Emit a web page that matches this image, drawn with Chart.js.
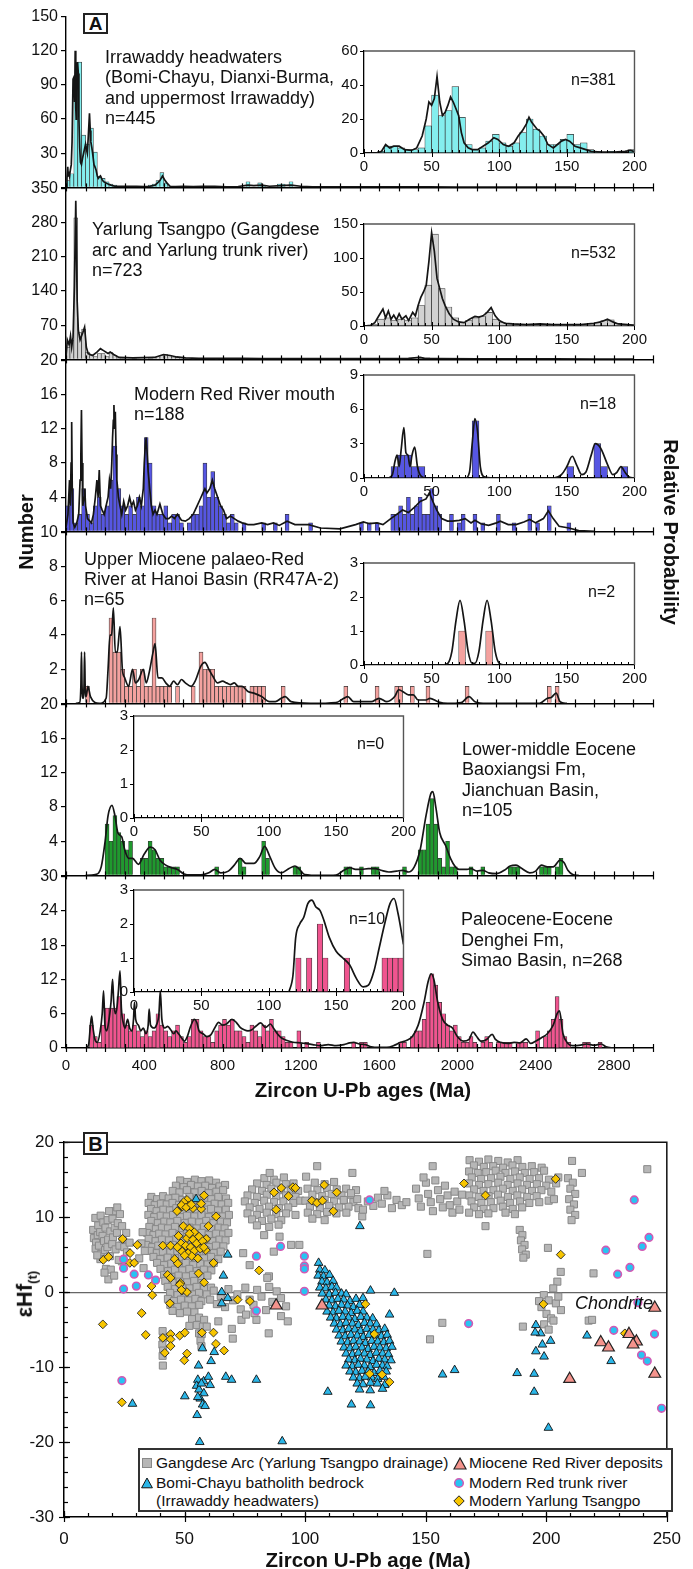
<!DOCTYPE html>
<html><head><meta charset="utf-8">
<script src="https://cdn.jsdelivr.net/npm/chart.js@4.4.1/dist/chart.umd.min.js"></script>
<style>
html,body{margin:0;padding:0;background:#fff;}
#root{position:relative;width:693px;height:1569px;overflow:hidden;font-family:"Liberation Sans",Arial,Helvetica,sans-serif;color:#111;}
canvas{position:absolute;}
.t{position:absolute;white-space:nowrap;}
.box{position:absolute;border:2px solid #222;background:#fff;font-weight:bold;text-align:center;box-sizing:border-box;}
</style></head>
<body><div id="root"></div>
<script>
// ---------------- DATA: Panel A main histograms ([bin start Ma, count], 20 Ma bins) ----------------
const BIN_MAIN = 20;
const hist1 = [[0,6],[20,12],[40,97],[60,110],[80,46],[100,38],[120,52],[140,31],[160,10],[180,8],[200,5],[220,3],[240,2],[260,1],[280,1],[300,1],[340,1],[380,1],[420,2],[440,3],[460,6],[480,13],[500,4],[520,1],[560,1],[600,1],[640,1],[700,1],[780,1],[840,1],[920,5],[980,4],[1000,1],[1080,3],[1100,3],[1140,5],[1200,1],[1340,1],[1500,1],[1860,1]];
const hist2 = [[0,25],[20,40],[40,290],[60,55],[80,62],[100,15],[120,8],[140,6],[160,12],[180,12],[200,6],[220,14],[240,8],[260,3],[280,2],[300,1],[320,1],[340,2],[360,1],[380,1],[400,1],[420,2],[440,5],[460,6],[480,8],[500,10],[520,8],[540,5],[560,4],[580,3],[600,2],[640,1],[700,2],[760,1],[840,2],[900,1],[960,2],[1000,1],[1100,1],[1200,1],[1300,2],[1400,1],[1500,1],[1600,1],[1700,1],[1800,2],[1820,3],[1840,3],[1860,2],[1900,2],[2000,1],[2100,1],[2300,1],[2400,1],[2500,2],[2700,1]];
const hist3 = [[0,3],[20,5],[40,1],[60,2],[80,5],[100,2],[120,1],[140,3],[160,4],[180,2],[200,3],[220,6],[240,10],[260,5],[280,3],[300,2],[320,3],[340,2],[360,4],[380,3],[400,11],[420,8],[440,3],[460,2],[480,2],[500,3],[520,1],[540,2],[560,2],[580,1],[620,1],[640,2],[660,2],[680,3],[700,8],[720,4],[740,7],[760,4],[780,3],[800,2],[820,1],[840,2],[860,1],[900,1],[1000,1],[1060,1],[1120,2],[1240,1],[1500,1],[1540,1],[1580,1],[1660,2],[1680,2],[1700,3],[1720,2],[1740,4],[1760,2],[1780,3],[1800,4],[1820,2],[1840,2],[1860,5],[1880,3],[1900,2],[1960,2],[2000,1],[2020,2],[2080,2],[2120,1],[2200,2],[2280,1],[2360,2],[2400,1],[2460,3],[2560,1]];
const hist4 = [[100,1],[220,5],[240,3],[260,3],[280,2],[300,1],[320,1],[340,2],[360,1],[380,2],[400,1],[420,1],[440,5],[460,1],[480,1],[500,1],[520,1],[560,1],[640,1],[680,3],[700,2],[720,2],[740,2],[760,1],[780,1],[800,1],[820,1],[840,1],[860,1],[880,1],[900,1],[940,1],[960,1],[980,1],[1000,1],[1100,1],[1420,1],[1580,1],[1680,1],[1700,1],[1760,1],[1840,1],[2040,1],[2460,1],[2500,1]];
const hist5 = [[200,6],[220,4],[240,7],[260,5],[280,4],[300,3],[320,4],[380,2],[400,2],[420,4],[440,3],[460,2],[480,2],[500,1],[520,1],[540,1],[560,1],[760,1],[880,2],[900,1],[1000,4],[1020,2],[1160,1],[1180,1],[1420,1],[1440,1],[1500,1],[1560,1],[1580,1],[1720,1],[1800,3],[1820,3],[1840,6],[1860,9],[1880,6],[1900,2],[1920,1],[1940,4],[1960,1],[1980,1],[2060,1],[2120,1],[2260,1],[2280,1],[2300,1],[2420,1],[2440,1],[2460,1],[2500,1],[2520,2]];
const hist6 = [[120,4],[140,2],[160,1],[180,4],[200,7],[220,7],[240,7],[260,9],[280,6],[300,4],[320,3],[340,4],[360,3],[380,2],[400,3],[420,2],[440,3],[460,6],[480,4],[500,3],[520,2],[540,3],[560,4],[580,2],[600,1],[620,2],[640,5],[660,5],[680,3],[700,2],[720,2],[740,1],[760,3],[780,4],[800,5],[820,4],[840,5],[860,3],[880,3],[900,2],[920,1],[940,4],[960,3],[980,2],[1000,4],[1020,3],[1040,5],[1060,3],[1080,3],[1100,2],[1120,1],[1140,1],[1180,3],[1220,1],[1280,1],[1460,1],[1500,1],[1520,1],[1700,1],[1720,1],[1760,2],[1780,3],[1800,3],[1820,5],[1840,8],[1860,13],[1880,11],[1900,8],[1920,6],[1940,4],[1960,3],[1980,4],[2000,2],[2020,1],[2040,1],[2060,2],[2080,1],[2120,1],[2140,2],[2160,1],[2200,1],[2220,1],[2240,1],[2260,1],[2300,1],[2320,1],[2340,1],[2400,3],[2440,2],[2460,3],[2480,5],[2500,9],[2520,5],[2540,2],[2560,1],[2640,1],[2660,1],[2720,1]];

// ---------------- DATA: Panel A probability curves ([age Ma, scaled value]) ----------------
const kde1 = [[0,1],[5,8],[9,18],[11,10],[14,14],[18,10],[22,15],[27,20],[31,40],[36,95],[41,97],[44,75],[47,120],[50,70],[52,60],[55,85],[59,110],[63,100],[66,60],[70,35],[74,22],[79,20],[84,25],[90,30],[95,34],[100,38],[105,33],[109,30],[114,45],[120,65],[124,50],[127,40],[132,35],[136,30],[143,20],[148,18],[154,15],[160,10],[165,8],[170,9],[176,10],[184,7],[192,5],[203,4],[215,3],[230,2],[249,1],[270,1],[300,1],[330,1],[360,1],[400,0.8],[430,1],[455,2],[468,4],[480,6],[493,10],[503,7],[515,4],[532,1],[560,0.8],[600,1],[650,0.8],[700,1],[760,1],[820,0.5],[880,0.8],[930,2],[960,1.5],[1000,2],[1040,1],[1100,1.5],[1150,2],[1200,1],[1260,0.5],[1350,0.5],[1450,0.5],[1550,0.5],[1700,0.5],[1850,0.5],[2000,0.3],[2200,0.3],[2400,0.3],[2600,0.3]];
const kde2 = [[0,5],[7,40],[16,30],[23,48],[29,25],[36,45],[43,150],[50,325],[57,120],[63,60],[72,40],[86,55],[95,66],[104,25],[113,12],[136,8],[158,15],[176,22],[192,18],[215,12],[226,15],[244,10],[271,4],[339,3],[452,4],[498,10],[532,8],[566,5],[611,3],[679,2],[792,2],[900,2],[1000,1.5],[1200,1.5],[1400,1.5],[1600,1.5],[1750,2],[1810,4],[1832,2],[1900,1.5],[2100,1],[2300,1],[2500,1.2],[2700,0.8],[2900,0.5]];
const kde3 = [[0,0.5],[10,2],[18,6],[22,3],[26,8],[29,12.8],[32,5],[36,1],[45,0.5],[55,1],[65,2],[72,6],[76,9],[79,14.2],[82,8],[86,3],[92,4],[96,5],[100,3],[110,1.5],[130,1],[140,2],[150,4],[158,6],[164,4],[170,7.2],[176,3],[185,2.5],[195,2],[205,3],[215,4],[222,6],[228,5],[234,8],[238,11],[242,13],[245,14.8],[248,12],[252,14],[256,9],[260,6],[268,4],[276,3],[285,2],[295,3.5],[305,2.5],[315,3],[325,4],[335,3],[345,3.5],[355,2.5],[365,3],[375,4],[385,3],[395,5],[400,8],[405,10],[410,11],[415,9],[420,7],[428,5],[436,3],[445,2],[455,2.5],[465,2],[480,3.2],[495,2],[510,1.5],[525,1.5],[540,1.8],[555,1.5],[570,2],[590,1.3],[610,1.2],[630,1.5],[650,2],[670,3],[690,4],[700,4.5],[710,5],[720,4.5],[735,5],[748,6],[760,5],[775,4],[790,3],[805,2.5],[820,1.5],[840,1.8],[860,1.5],[880,1.2],[900,1],[930,0.8],[960,0.8],[1000,1],[1030,0.8],[1060,1],[1090,0.7],[1130,1.2],[1170,0.8],[1240,0.8],[1300,0.4],[1400,0.3],[1480,0.8],[1520,1.1],[1550,0.9],[1590,1],[1620,0.8],[1660,1.5],[1690,2],[1720,2.5],[1750,2.2],[1780,2.8],[1810,3.5],[1840,3.8],[1857,4.5],[1875,3.5],[1895,2.5],[1920,1.5],[1950,1.2],[1975,1.2],[2010,1.3],[2040,1.5],[2070,1],[2090,1.3],[2120,0.9],[2160,0.7],[2200,1],[2220,1.2],[2260,0.8],[2300,0.8],[2340,1.1],[2370,1.4],[2400,1],[2440,1.5],[2465,2.4],[2490,1.5],[2520,0.6],[2570,0.4],[2620,0.1],[2700,0]];
const kde4 = [[50,0],[70,0.05],[76,1],[79,3],[82,1],[87,0.3],[92,1],[95,3],[98,1],[103,0.4],[112,1],[125,0.4],[170,0],[205,0.3],[215,2],[225,4],[233,4],[242,5.6],[252,3],[262,3],[276,4.5],[288,2],[300,1.5],[320,1],[340,2],[355,1.2],[372,1.4],[395,2],[410,1.2],[425,1.8],[445,3],[455,3.5],[470,1.5],[490,1.5],[510,1.2],[530,1],[550,1.3],[570,1.1],[590,1.4],[610,1.2],[640,1],[660,1.3],[690,2.2],[710,2.4],[730,2],[750,1.6],[775,1.2],[800,1.3],[820,1.2],[840,1.1],[860,1.2],[880,1],[900,1],[930,0.7],[960,0.6],[1000,0.4],[1040,0.1],[1070,0.1],[1100,0.3],[1120,0.4],[1150,0.1],[1250,0],[1380,0.05],[1420,0.3],[1440,0.4],[1470,0.1],[1560,0.1],[1600,0.3],[1640,0.1],[1680,0.4],[1700,0.8],[1720,0.7],[1750,0.5],[1775,0.5],[1800,0.2],[1840,0.2],[1860,0.3],[1900,0.1],[1950,0],[2020,0.05],[2060,0.4],[2090,0.1],[2150,0],[2420,0],[2460,0.3],[2480,0.35],[2505,0.6],[2525,0.1],[2560,0]];
const kde5 = [[100,0],[150,0.1],[180,1],[200,4],[215,7],[235,8.2],[250,7],[265,5],[285,4.5],[300,3],[320,2],[340,2],[370,1.3],[400,2.5],[430,3.3],[455,3],[480,1.8],[510,1.2],[540,0.9],[570,0.7],[600,0.2],[640,0.05],[700,0.1],[730,0.3],[760,0.7],[790,0.3],[830,0.5],[860,1.2],[890,2],[920,1.4],[960,1.4],[990,2.2],[1015,3.4],[1040,2.3],[1070,0.8],[1100,0.3],[1140,0.8],[1170,1.1],[1190,0.8],[1220,0.1],[1300,0],[1380,0.05],[1420,0.6],[1450,0.9],[1480,0.7],[1510,0.7],[1545,0.8],[1580,0.8],[1610,0.6],[1650,0.4],[1690,0.5],[1720,0.6],[1750,0.4],[1780,1],[1810,3],[1840,7],[1865,9.6],[1875,9.8],[1890,8],[1910,5],[1940,3.5],[1965,2],[1990,1],[2010,0.7],[2050,0.7],[2070,0.8],[2100,0.5],[2130,0.6],[2160,0.3],[2200,0.2],[2240,0.6],[2270,1.1],[2300,1.2],[2330,0.8],[2370,0.3],[2400,0.5],[2430,1.2],[2460,1],[2490,1],[2525,1.8],[2545,1.5],[2565,0.6],[2590,0.1],[2620,0]];
const kde6 = [[100,0],[115,0.5],[125,4],[131,5.6],[138,3.5],[148,1.5],[160,1],[175,3],[185,6],[192,10],[199,4],[208,3],[220,5],[230,8],[238,12],[244,8],[252,6],[260,7],[268,10],[276,13.5],[283,7],[292,4.5],[302,3.5],[315,5],[325,3.5],[338,3],[345,5],[350,8],[356,5],[370,4],[382,3],[395,3.5],[408,2.5],[420,4],[425,6.8],[432,4],[450,3.5],[462,4],[475,6],[482,10],[490,5],[505,3.5],[520,3.8],[535,3.2],[550,2.5],[562,3],[575,2.5],[590,1.8],[605,1.2],[620,2],[637,3.8],[656,5],[668,4.5],[680,3],[700,2.5],[720,2],[740,2.3],[760,3.5],[780,4.5],[800,4],[820,4.2],[848,5],[870,4.5],[890,3.6],[910,3.2],[930,3],[950,3.2],[970,3.8],[995,4.4],[1020,3.6],[1045,4.2],[1060,3.5],[1080,2.5],[1100,1.8],[1130,1.3],[1160,1],[1199,0.9],[1220,0.8],[1260,0.6],[1300,0.4],[1340,0.6],[1380,0.4],[1420,0.6],[1450,0.9],[1470,1],[1500,0.7],[1530,0.6],[1560,0.2],[1600,0.1],[1640,0.1],[1680,0.5],[1710,1],[1740,1.3],[1770,2],[1800,4],[1830,8],[1850,11.5],[1866,13],[1880,12],[1900,8],[1925,5],[1950,4],[1975,3.5],[2000,2],[2030,1.2],[2060,1.5],[2080,2.8],[2095,2.2],[2120,1.2],[2150,1.5],[2178,2.4],[2195,1.5],[2220,1],[2260,0.8],[2290,1],[2320,0.9],[2352,1.6],[2375,0.8],[2400,1.2],[2430,1.8],[2460,2.5],[2490,4],[2510,6],[2522,6.5],[2540,2.5],[2565,0.8],[2590,0.4],[2630,0.5],[2660,0.7],[2700,0.5],[2735,0.7],[2760,0.2],[2800,0]];

// ---------------- DATA: Panel A insets (0-200 Ma) ----------------
const BIN_IN = 5, BIN_IN6 = 4;
const in1Hist = [[10,1],[15,4],[20,4],[25,3],[30,2],[35,2],[40,3],[45,16],[50,34],[55,22],[60,25],[65,39],[70,21],[75,5],[80,2],[85,3],[90,7],[95,11],[100,6],[105,4],[110,6],[115,12],[120,20],[125,14],[130,10],[135,5],[140,5],[145,8],[150,11],[155,5],[160,6],[165,2],[170,1],[180,1],[195,2]];
const in2Hist = [[5,2],[10,10],[15,12],[20,8],[25,10],[30,8],[35,12],[40,30],[45,60],[50,135],[55,55],[60,28],[65,12],[70,5],[75,8],[80,12],[85,14],[90,20],[95,10],[100,5],[105,3],[110,3],[115,2],[120,3],[125,2],[130,2],[135,3],[140,2],[145,2],[150,2],[155,3],[160,2],[165,3],[170,5],[175,8],[180,9],[185,4],[190,2],[195,2]];
const in3Hist = [[20,1],[25,2],[30,2],[35,1],[40,1],[80,5],[150,1],[170,3],[175,1],[190,1]];
const in4Hist = [[70,1],[90,1]];
const in5Hist = [];
const in6Hist = [[120,1],[128,1],[136,2],[140,1],[156,1],[184,1],[188,1],[192,1],[196,1]];
const in1Kde = [[0,0],[10,0],[13,1],[16,5],[19,3],[22,4],[26,4],[30,2],[35,1.5],[39,3],[43,10],[46,20],[48,30],[50,28],[52,32],[54,45],[56,30],[58,22],[60,24],[62,28],[64,33],[66,30],[68,26],[70,22],[72,12],[74,6],[77,3],[80,2],[84,2],[88,4],[92,6],[96,9],[99,8],[103,5],[107,4],[111,6],[114,10],[117,13],[120,17],[122,21],[124,18],[126,16],[128,14],[130,13],[133,10],[136,5],[140,3],[143,5],[146,7],[149,8],[152,7],[156,4],[160,3],[164,2],[168,1],[175,0.5],[185,0.5],[193,1],[197,1.5],[200,0.8]];
const in2Kde = [[0,0],[5,1],[8,5],[11,15],[14,25],[16,12],[18,22],[20,10],[22,16],[24,9],[26,18],[28,10],[31,15],[33,8],[36,20],[38,15],[40,30],[42,42],[44,50],[46,60],[48,95],[50,137],[52,110],[54,70],[56,55],[58,40],[60,30],[63,18],[66,10],[70,6],[74,5],[78,10],[82,14],[85,13],[88,15],[91,20],[94,27],[97,15],[100,8],[104,4],[110,3],[120,2],[130,3],[140,2],[150,2],[160,2],[170,4],[175,6],[180,10],[184,6],[188,3],[195,2],[200,1]];
const in3Kde = [[0,0],[18,0],[21,0.3],[23,1.5],[24.5,2],[26,1],[27.5,2.5],[29.5,4.4],[31,2.2],[32.5,2],[34,1],[35.5,2],[37.5,2.7],[39.5,1],[42,0.2],[46,0],[75,0],[78,0.5],[80,3],[82,5.2],[84,4],[86,1],[89,0.1],[95,0],[140,0],[146,0.3],[150,1],[154,1.9],[157,1.2],[161,0.3],[164,0.5],[168,2],[171,3],[175,2.6],[180,1.2],[184,0.3],[187,0.5],[190,1],[193,0.5],[196,0.1],[200,0]];
const in4Kde = [[0,0],[58,0],[62,0.05],[65,0.4],[68,1.3],[71,1.9],[74,1.3],[77,0.4],[80,0.05],[82,0.05],[85,0.4],[88,1.3],[91,1.9],[94,1.3],[97,0.4],[100,0.05],[104,0],[122,0]];
const in6Kde = [[115,0],[118,0.5],[120,1.6],[123,2],[126,2.2],[129,2.6],[132,2.7],[135,2.5],[138,2.4],[141,2.1],[145,1.6],[150,1.2],[155,1],[160,0.8],[165,0.4],[170,0.15],[174,0.2],[178,0.6],[182,1.3],[186,2],[190,2.6],[193,2.75],[196,2.3],[200,1.4]];

// ---------------- DATA: Panel B ([U-Pb age Ma, eHf(t)]) ----------------
const gangdese = [
[12.1,8.3],[12.4,7.2],[13.0,9.9],[13.3,6.6],[13.1,5.8],[14.2,8.9],[14.0,7.6],[14.5,6.2],[15.2,10.2],[15.0,8.0],[15.4,5.1],[15.1,4.4],[16.3,9.3],[16.0,7.5],[16.6,6.8],[17.2,8.6],[17.0,5.6],[17.4,3.1],[18.1,9.6],[18.3,7.0],[18.0,6.0],[18.4,1.7],[19.2,8.1],[19.0,4.8],[20.1,9.8],[20.3,7.3],[20.0,6.4],[21.2,10.8],[21.0,8.6],[21.4,5.7],[22.1,11.3],[22.3,9.2],[22.0,7.9],[23.2,10.4],[23.0,6.2],[24.1,8.8],[24.3,7.1],[25.0,6.0],[26.1,5.3],[27.2,6.6],[24.0,4.1],[19.4,3.0],[13.8,4.9],[16.8,2.6],[20.8,2.2],[22.7,4.3],[25.8,7.9],[18.7,10.8],
[48.2,14.9],[51.1,14.7],[54.3,15.0],[57.0,14.8],[60.2,14.9],[63.1,14.6],
[46.4,14.2],[49.6,14.0],[52.7,14.3],[55.5,14.1],[58.6,14.2],[61.4,13.9],[64.5,14.1],[66.8,14.3],
[45.1,13.5],[47.9,13.3],[51.0,13.6],[54.2,13.3],[57.1,13.5],[60.0,13.2],[63.2,13.4],[66.0,13.6],
[36.2,12.7],[38.6,12.4],[41.1,12.8],[43.4,12.5],[46.2,12.6],[49.1,12.3],[52.0,12.7],[55.2,12.5],[58.0,12.6],[61.1,12.4],[64.0,12.7],[67.2,12.5],
[35.1,11.9],[37.6,11.6],[40.2,11.8],[42.6,11.7],[45.0,11.9],[47.7,11.6],[50.6,11.8],[53.4,11.7],[56.5,11.9],[59.6,11.6],[62.5,11.8],[65.4,11.7],[68.1,11.9],
[36.1,11.1],[38.4,10.8],[41.2,11.0],[43.9,10.9],[46.6,11.2],[49.0,10.9],[52.1,11.1],[55.0,10.8],[58.2,11.0],[61.0,11.1],[63.9,10.9],[67.1,11.0],
[35.0,10.3],[37.4,10.0],[40.1,10.2],[42.6,10.1],[45.2,10.3],[48.1,10.0],[51.0,10.2],[54.1,10.1],[57.0,10.3],[60.1,10.0],[62.9,10.2],[66.0,10.1],[68.4,10.3],
[36.2,9.5],[38.9,9.2],[41.6,9.4],[44.1,9.3],[47.0,9.5],[50.1,9.2],[53.0,9.4],[56.1,9.3],[59.0,9.5],[62.0,9.2],[65.1,9.4],[67.6,9.3],
[35.4,8.7],[38.1,8.4],[40.6,8.6],[43.1,8.5],[46.0,8.7],[49.1,8.4],[52.0,8.6],[55.0,8.5],[58.1,8.7],[61.0,8.4],[64.1,8.6],[66.6,8.5],
[34.5,7.9],[37.1,7.6],[39.5,7.8],[42.1,7.7],[45.0,7.9],[48.0,7.6],[51.1,7.8],[54.0,7.7],[57.1,7.9],[60.0,7.6],[63.1,7.8],[66.0,7.7],[68.2,7.9],
[35.1,7.1],[38.0,6.8],[40.6,7.0],[43.5,6.9],[46.6,7.1],[49.5,6.8],[52.6,7.0],[55.4,6.9],[58.5,7.1],[61.6,6.8],[64.5,7.0],[67.0,6.9],
[34.0,6.3],[36.6,6.0],[39.1,6.2],[42.0,6.1],[45.1,6.3],[48.0,6.0],[51.1,6.2],[54.0,6.1],[57.0,6.3],[60.1,6.0],[63.0,6.2],[66.1,6.1],
[35.6,5.5],[38.5,5.2],[41.0,5.4],[44.1,5.3],[47.0,5.5],[50.1,5.2],[53.0,5.4],[56.1,5.3],[59.0,5.5],[62.1,5.2],[65.0,5.4],
[37.1,4.7],[40.0,4.4],[43.0,4.6],[46.1,4.5],[49.0,4.7],[52.1,4.4],[55.0,4.6],[58.1,4.5],[61.0,4.7],[64.0,4.4],
[38.6,3.9],[41.5,3.6],[44.5,3.8],[47.6,3.7],[50.5,3.9],[53.6,3.6],[56.5,3.8],[59.6,3.7],[62.1,3.9],
[40.0,3.1],[43.1,2.8],[46.0,3.0],[49.1,2.9],[52.0,3.1],[55.1,2.8],[58.0,3.0],[61.1,2.9],
[41.5,2.3],[44.6,2.0],[47.5,2.2],[50.6,2.1],[53.5,2.3],[56.6,2.0],[59.5,2.2],
[42.0,1.5],[45.1,1.2],[48.0,1.4],[51.1,1.3],[54.0,1.5],[57.1,1.2],
[43.0,0.7],[46.1,0.4],[49.0,0.6],[52.1,0.5],[55.0,0.7],[58.1,0.4],[61.0,0.6],
[44.0,-0.1],[47.1,-0.4],[50.0,-0.2],[53.1,-0.3],[56.0,-0.1],
[43.1,-0.9],[45.6,-1.2],[48.5,-1.0],[51.6,-1.1],[54.5,-0.9],[57.0,-1.2],
[44.1,-1.7],[47.0,-2.0],[50.1,-1.8],[53.0,-1.9],[56.1,-1.7],
[45.0,-2.5],[48.1,-2.8],[51.0,-2.6],[54.1,-2.7],
[53.1,-3.6],[56.0,-3.4],[58.1,-3.7],[52.0,-4.5],[55.1,-4.4],[57.6,-4.6],[56.0,-5.5],[57.1,-5.6],[56.6,-6.5],[57.0,-7.2],
[40.9,-5.2],[41.2,-6.1],[40.8,-7.0],[41.1,-7.8],[40.9,-8.5],[41.0,-9.8],
[31.2,4.5],[32.1,6.5],[33.0,3.2],[33.5,5.5],[32.6,8.0],
[59.2,-0.3],[60.6,-1.0],[62.1,0.2],[63.4,-1.6],[65.0,-0.5],[66.8,-2.0],[68.2,0.4],[70.1,-1.1],[71.9,-0.3],[73.3,-2.3],[75.2,0.6],[77.0,-1.0],[78.6,-1.7],[80.1,0.3],[81.9,-0.6],[83.8,-2.4],[85.1,0.7],[86.4,-1.3],[88.2,0.1],[90.0,-0.8],[92.1,-1.9],
[64.0,-3.9],[69.6,-4.9],[73.6,-3.7],[79.8,-3.7],[84.9,-5.5],[92.8,-3.9],[59.2,-4.6],[79.0,-2.8],[83.0,7.6],[85.0,2.1],[77.0,3.6],[74.3,5.2],[89.4,7.4],[94.2,6.3],[97.6,6.3],[87.0,5.4],[84.3,1.9],[70.0,-6.2],[90.0,-3.2],[75.5,-3.0],
[83.1,15.2],[87.0,15.0],[91.2,15.3],
[80.1,14.5],[84.0,14.3],[88.1,14.6],[92.0,14.4],[95.2,14.5],
[78.0,13.7],[82.1,13.5],[86.0,13.8],[90.1,13.6],[94.0,13.7],[97.1,13.5],
[76.1,12.9],[80.0,12.7],[84.1,13.0],[88.0,12.8],[92.1,12.9],[96.0,12.7],
[75.0,12.1],[79.1,11.9],[83.0,12.2],[87.1,12.0],[91.0,12.1],[95.1,11.9],[98.0,12.2],
[77.0,11.3],[81.1,11.1],[85.0,11.4],[89.1,11.2],[93.0,11.3],
[76.1,10.5],[80.0,10.3],[84.1,10.6],[88.0,10.4],[92.1,10.5],[96.0,10.3],
[78.0,9.7],[82.1,9.5],[86.0,9.8],[90.1,9.6],
[80.0,8.9],[85.1,8.7],[89.0,9.0],
[104.0,14.6],[108.1,14.4],[112.0,14.7],
[101.0,13.8],[105.1,13.6],[109.0,13.9],[113.1,13.7],[117.0,13.8],[121.1,13.6],
[103.0,13.0],[107.1,12.8],[111.0,13.1],[115.1,12.9],[119.0,13.0],
[100.1,12.2],[104.0,12.0],[108.1,12.3],[112.0,12.1],[116.1,12.2],[120.0,12.0],
[102.0,11.4],[106.1,11.2],[110.0,11.5],[114.1,11.3],[118.0,11.4],[122.1,11.2],
[101.1,10.6],[105.0,10.4],[109.1,10.7],[113.0,10.5],[117.1,10.6],
[103.0,9.8],[108.1,9.6],
[105.0,16.8],[85.3,15.9],[100.4,15.4],[119.6,15.9],[116.0,12.3],[121.6,12.4],[123.7,10.1],[119.0,13.2],
[126.0,12.1],[128.3,11.5],[130.2,12.6],[131.8,11.8],[134.1,12.9],[136.0,11.2],[137.9,12.3],[140.1,11.6],[142.0,12.0],[124.0,11.0],[132.9,13.5],
[146.0,13.8],[147.1,12.5],[148.0,11.4],[150.1,14.6],[151.0,13.1],[152.1,12.0],[153.0,10.8],[155.1,13.6],[156.0,12.4],[157.1,11.3],[158.0,14.2],[159.1,12.9],[160.0,11.6],[161.1,10.6],[162.0,13.4],[163.1,12.1],[164.0,11.0],[165.1,13.0],[149.1,15.3],[154.0,14.9],[152.9,16.8],[150.7,5.1],
[168.2,17.6],[172.1,17.4],[176.0,17.7],[180.1,17.5],[184.0,17.3],[188.1,17.6],
[170.0,16.9],[174.1,16.7],[178.0,16.8],[182.1,16.6],[186.0,16.9],[190.1,16.7],[194.0,16.8],[198.1,16.6],
[168.0,16.1],[171.6,15.9],[175.1,16.0],[179.0,16.2],[183.1,15.9],[187.0,16.1],[191.1,15.9],[195.0,16.0],[199.1,16.2],
[169.1,15.3],[173.0,15.1],[177.1,15.2],[181.0,15.4],[185.1,15.1],[189.0,15.3],[193.1,15.1],[197.0,15.2],[201.1,15.0],[205.0,15.3],
[168.0,14.5],[172.1,14.3],[176.0,14.4],[180.1,14.6],[184.0,14.3],[188.1,14.5],[192.0,14.3],[196.1,14.4],[200.0,14.2],[204.1,14.5],
[170.1,13.7],[174.0,13.5],[178.1,13.6],[182.0,13.8],[186.1,13.5],[190.0,13.7],[194.1,13.5],[198.0,13.6],[202.1,13.4],
[168.1,12.9],[172.0,12.7],[176.1,12.8],[180.0,13.0],[184.1,12.7],[188.0,12.9],[192.1,12.7],[196.0,12.8],
[169.0,12.1],[173.1,11.9],[177.0,12.0],[181.1,12.2],[185.0,11.9],[189.1,12.1],[193.0,11.9],[197.1,12.0],[201.0,12.2],
[170.1,11.3],[174.0,11.1],[178.1,11.2],[182.0,11.4],[186.1,11.1],[190.0,11.3],
[168.0,10.6],[172.1,10.4],[176.0,10.5],[183.1,10.6],[187.0,10.4],
[174.8,8.8],[210.7,17.5],[214.8,15.9],[203.2,12.4],[241.9,16.4],[200.7,5.9],[206.0,2.7],[204.6,1.4],[219.6,2.5],
[189.0,8.3],[190.1,7.6],[189.5,6.9],[191.0,6.3],[190.0,5.7],[191.5,5.0],[190.5,4.6],
[209.0,15.2],[211.0,14.6],[210.0,13.8],[212.0,13.1],[209.5,12.4],[211.5,11.7],[210.0,11.0],[212.0,10.3],[210.5,9.6],
[199.0,-0.4],[201.0,-1.1],[198.0,-2.0],[200.1,-2.9],[202.0,-3.5],[199.1,-4.3],[201.0,-5.0],[204.0,-1.5],[206.1,-2.4],[203.0,-3.8],[205.0,-0.6],[190.3,-4.6],[217.6,-3.8],[219.0,-3.7],[156.9,-4.1],[151.8,-6.3],[197.0,-1.2],[202.9,0.5]
];
const bomiChayu = [
[105.6,3.9],[106.1,3.0],[108.2,2.9],[105.4,2.2],[107.6,2.1],[110.1,2.3],[107.0,1.4],[109.1,1.3],[111.6,1.5],
[106.1,0.6],[108.6,0.5],[111.1,0.7],[113.0,0.6],
[107.1,-0.2],[110.0,-0.3],[112.6,-0.1],[115.1,-0.2],[117.0,-0.3],
[108.6,-1.0],[111.1,-1.1],[113.6,-0.9],[116.0,-1.0],[118.6,-1.2],[121.1,-0.9],
[110.0,-1.8],[112.6,-1.9],[115.1,-1.7],[117.6,-1.8],[120.0,-2.0],[122.6,-1.7],
[109.1,-2.6],[111.6,-2.7],[114.0,-2.5],[116.6,-2.6],[119.1,-2.8],[121.6,-2.5],[124.0,-2.6],
[110.6,-3.4],[113.0,-3.5],[115.6,-3.3],[118.0,-3.4],[120.6,-3.6],[123.1,-3.3],[125.6,-3.4],[128.0,-3.5],
[112.1,-4.2],[114.6,-4.3],[117.0,-4.1],[119.6,-4.2],[122.1,-4.4],[124.6,-4.1],[127.0,-4.2],[129.6,-4.3],
[113.0,-5.0],[115.6,-5.1],[118.1,-4.9],[120.6,-5.0],[123.0,-5.2],[125.6,-4.9],[128.1,-5.0],[130.6,-5.1],[133.0,-4.9],
[114.1,-5.8],[116.6,-5.9],[119.0,-5.7],[121.6,-5.8],[124.1,-6.0],[126.6,-5.7],[129.0,-5.8],[131.6,-5.9],[134.0,-5.7],
[115.0,-6.6],[117.6,-6.7],[120.1,-6.5],[122.6,-6.6],[125.0,-6.8],[127.6,-6.5],[130.1,-6.6],[132.6,-6.7],[135.0,-6.5],
[116.1,-7.4],[118.6,-7.5],[121.0,-7.3],[123.6,-7.4],[126.1,-7.6],[128.6,-7.3],[131.0,-7.4],[133.6,-7.5],[136.0,-7.3],
[117.0,-8.2],[119.6,-8.3],[122.1,-8.1],[124.6,-8.2],[127.0,-8.4],[129.6,-8.1],[132.1,-8.2],[134.6,-8.3],
[118.1,-9.0],[120.6,-9.1],[123.0,-8.9],[125.6,-9.0],[128.1,-9.2],[130.6,-8.9],[133.0,-9.0],[135.6,-9.1],
[117.0,-9.8],[119.6,-9.9],[122.1,-9.7],[124.6,-9.8],[127.0,-10.0],[129.6,-9.7],[132.1,-9.8],[134.0,-9.9],
[118.6,-10.6],[121.0,-10.7],[123.6,-10.5],[126.1,-10.6],[128.6,-10.8],[131.0,-10.5],[133.6,-10.6],
[120.0,-11.4],[122.6,-11.5],[125.0,-11.3],[127.6,-11.4],[130.1,-11.6],[132.6,-11.3],
[121.6,-12.2],[124.0,-12.3],[127.1,-12.1],[130.0,-12.2],[133.0,-12.4],
[122.6,-13.0],[127.0,-13.1],[132.1,-12.9],
[119.2,-15.0],[127.1,-15.1],[109.4,-13.3],[157.0,-11.0],[162.0,-10.4],[187.9,-10.8],[195.0,-10.9],[195.0,-13.3],[200.9,-18.1],[195.7,-4.4],[197.7,-5.5],[195.4,-5.4],[198.4,-7.0],[201.8,-6.5],[195.7,-7.9],[199.1,-8.6],[216.9,-5.8],[226.9,-9.2],[135.0,-3.0],[137.0,-0.1],[127.1,0.2],[124.0,-0.8],[122.7,8.8],
[54.8,12.4],[67.9,5.0],[66.1,2.2],[65.4,0.0],[65.4,-1.5],[67.9,-0.8],[57.4,-7.5],[55.8,-9.8],[55.5,-11.7],[57.9,-11.9],[55.0,-12.5],[56.0,-13.0],[57.0,-12.2],[58.0,-13.5],[56.5,-14.2],[57.5,-15.0],[58.5,-15.2],[55.5,-14.0],[60.6,-12.4],[59.9,-11.3],[61.0,-9.2],[62.3,-8.0],[67.1,-11.3],[69.5,-11.7],[79.8,-11.7],[50.1,-13.9],[28.4,-14.9],[55.2,-16.4],[56.3,-20.0],[90.5,-19.9]
];
const mioceneRed = [[88.0,-1.8],[107.0,-1.8],[209.7,-11.6],[222.6,-6.7],[225.8,-7.4],[234.3,-5.6],[237.4,-6.6],[236.0,-7.0],[245.0,-2.1],[245.0,-10.9]];
const modernRed = [[24.7,4.4],[24.7,3.2],[29.1,2.4],[35.0,2.3],[38.0,1.6],[30.0,0.8],[24.7,0.4],[79.8,4.8],[89.8,6.1],[99.7,4.8],[99.7,3.5],[99.7,3.1],[99.7,0.1],[79.8,-2.5],[24.0,-11.8],[126.7,12.3],[236.5,12.3],[242.6,7.3],[239.8,6.1],[224.7,5.6],[234.7,3.3],[229.6,2.4],[167.8,-4.2],[238.0,-1.4],[228.0,-5.1],[244.9,-5.6],[239.5,-8.4],[241.9,-9.2],[247.8,-15.5]];
const modernYarlung = [
[24.3,7.1],[16.3,4.3],[18.5,4.7],[27.4,5.2],[27.3,3.9],[29.1,3.9],[30.4,6.3],[41.0,6.2],[44.2,6.2],[45.9,4.4],[47.2,3.8],[43.0,2.3],[44.2,1.9],[36.3,0.8],[36.6,-0.4],[43.9,-1.5],[48.3,1.2],[49.0,0.2],[51.0,0.0],[55.8,2.5],[58.1,1.3],[62.0,3.9],[58.8,5.6],[59.0,7.1],[59.9,8.8],[63.1,10.1],[58.1,12.9],[51.0,12.3],[49.0,11.4],[46.9,10.8],[51.7,11.5],[53.5,11.2],[56.9,11.1],[56.9,11.8],[49.6,12.0],[48.7,11.6],[50.7,11.3],[52.8,11.7],
[49.5,8.8],[52.0,8.5],[54.0,8.0],[47.5,7.5],[51.0,7.2],[53.5,7.0],[56.0,7.4],[48.5,6.5],[50.5,6.2],[52.5,6.0],[55.0,6.5],[57.5,6.8],[49.0,5.4],[51.5,5.2],[54.0,5.5],[56.5,5.8],[53.0,4.8],[50.0,4.9],[55.5,4.5],[47.0,6.0],[52.0,7.8],[58.0,6.0],
[87.1,13.3],[90.1,13.9],[88.0,11.0],[93.1,12.8],[94.9,14.0],[96.0,13.9],[102.8,12.2],[104.9,11.9],[107.2,12.2],[107.9,14.3],[111.7,10.8],[113.1,13.3],[165.9,14.5],[174.8,12.9],[203.9,15.1],[206.0,5.0],[198.8,-1.6],[80.9,2.9],[72.0,-1.0],[77.1,-1.2],
[16.1,-4.3],[32.2,-2.8],[33.9,-5.7],[41.0,-6.1],[41.8,-8.1],[44.2,-5.6],[44.2,-6.3],[44.2,-7.2],[48.0,-5.8],[50.1,-5.4],[51.0,-8.2],[49.9,-9.1],[57.2,-5.4],[62.0,-5.4],[63.0,-6.9],[66.4,-7.8],[48.0,1.0],[48.7,0.3],[24.0,-14.7],
[125.0,-1.6],[128.7,-5.6],[126.8,-10.9],[131.9,-11.0],[135.0,-12.0],[232.6,-5.5]
];

// ---------------- RENDERING ----------------
const FONT = '"Liberation Sans", Arial, Helvetica, sans-serif';
const root = document.getElementById('root');
function addCanvas(l, t, w, h) {
  const c = document.createElement('canvas');
  c.width = w; c.height = h;
  c.style.left = l + 'px'; c.style.top = t + 'px';
  c.style.width = w + 'px'; c.style.height = h + 'px';
  root.appendChild(c);
  return c;
}
function addText(lines, left, firstCenter, size, lh, style) {
  const d = document.createElement('div');
  d.className = 't';
  d.style.left = left + 'px';
  d.style.top = (firstCenter - lh / 2) + 'px';
  d.style.fontSize = size + 'px';
  d.style.lineHeight = lh + 'px';
  if (style) Object.assign(d.style, style);
  d.innerHTML = lines.join('<br>');
  root.appendChild(d);
  return d;
}
const pts = arr => arr.map(p => ({x: p[0], y: p[1]}));
const bars = (arr, w) => arr.map(p => ({x: p[0] + w / 2, y: p[1]}));

// plugin: tick marks crossing the axis lines, positions from the scales
const tickMarks = {
  id: 'tickMarks',
  afterDraw(chart, args, o) {
    if (!o || !o.sets) return;
    const ctx = chart.ctx, ca = chart.chartArea;
    ctx.save();
    ctx.strokeStyle = o.color || '#000';
    ctx.lineWidth = o.width || 1;
    o.sets.forEach(t => {
      const s = chart.scales[t.axis];
      const n = Math.round((s.max - s.min) / t.step);
      for (let i = 0; i <= n; i++) {
        const p = s.getPixelForValue(s.min + i * t.step);
        ctx.beginPath();
        if (s.isHorizontal()) {
          const px = Math.round(p) + 0.5;
          ctx.moveTo(px, ca.bottom - t.inside); ctx.lineTo(px, ca.bottom + t.outside);
        } else {
          const py = Math.round(p) + 0.5;
          ctx.moveTo(ca.left - t.outside, py); ctx.lineTo(ca.left + t.inside, py);
        }
        ctx.stroke();
      }
    });
    ctx.restore();
  }
};
// plugin: top and right frame lines
const frame = {
  id: 'frame',
  afterDraw(chart, args, o) {
    if (!o || !o.color) return;
    const ctx = chart.ctx, ca = chart.chartArea;
    ctx.save();
    ctx.strokeStyle = o.color; ctx.lineWidth = o.width || 1;
    ctx.beginPath();
    ctx.moveTo(ca.left, ca.top); ctx.lineTo(ca.right, ca.top); ctx.lineTo(ca.right, ca.bottom);
    ctx.stroke();
    ctx.restore();
  }
};
Chart.register(tickMarks, frame);

// ---------- Panel A: stacked main panels ----------
const PANEL_TOP = 16, PANEL_H = 172;
const mains = [
  {hist: hist1, kde: kde1, max: 150, step: 30, fill: '#84eeee', smooth: false},
  {hist: hist2, kde: kde2, max: 350, step: 70, fill: '#d2d2d2', smooth: false},
  {hist: hist3, kde: kde3, max: 20, step: 4, fill: '#5656e2', smooth: false},
  {hist: hist4, kde: kde4, max: 10, step: 2, fill: '#f4a29f', smooth: true},
  {hist: hist5, kde: kde5, max: 20, step: 4, fill: '#1f9a2e', smooth: true},
  {hist: hist6, kde: kde6, max: 30, step: 6, fill: '#f0548f', smooth: true}
];
mains.forEach((m, i) => {
  const top = PANEL_TOP + i * PANEL_H;
  const isLast = i === mains.length - 1;
  const xH = isLast ? 32 : 12;
  const c = addCanvas(0, top - 12, 693, PANEL_H + 12 + xH);
  new Chart(c, {
    type: 'bar',
    data: {datasets: [
      {type: 'line', data: pts(m.kde), borderColor: '#151515', borderWidth: 1.7, pointRadius: 0, fill: false,
       tension: 0, cubicInterpolationMode: m.smooth ? 'monotone' : 'default', order: 0},
      {type: 'bar', data: bars(m.hist, BIN_MAIN), backgroundColor: m.fill, borderColor: '#333', borderWidth: 0.7,
       barPercentage: 1, categoryPercentage: 1, order: 1}
    ]},
    options: {
      responsive: false, animation: false, events: [],
      layout: {padding: {left: 0, right: 40, top: 12, bottom: 0}},
      plugins: {legend: {display: false}, tooltip: {enabled: false},
        tickMarks: {sets: [{axis: 'x', step: 100, inside: 4, outside: 4}], width: 1.2}},
      scales: {
        x: {type: 'linear', min: 0, max: 3000, offset: false,
          afterFit: s => { s.height = xH; },
          border: {color: '#000', width: 1.4},
          grid: {display: false, drawTicks: false, offset: false},
          ticks: {stepSize: 100, autoSkip: false, maxRotation: 0, padding: 9, color: '#111',
            font: {family: FONT, size: 15},
            callback: v => (isLast && v % 400 === 0 && v <= 2800) ? String(v) : ''}},
        y: {type: 'linear', min: 0, max: m.max,
          afterFit: s => { s.width = 66; },
          border: {color: '#000', width: 1.4},
          grid: {drawOnChartArea: false, drawTicks: true, tickLength: 5, color: '#000', lineWidth: 1.2},
          ticks: {stepSize: m.step, padding: 3, color: '#111', font: {family: FONT, size: 16},
            callback: v => (v === 0 && !isLast) ? '' : String(v)}}
      }
    }
  });
});

// ---------- Panel A: insets ----------
const insets = [
  {L: 364, T: 50, R: 640, B: 153, hist: in1Hist, bin: BIN_IN, kde: in1Kde, max: 60, step: 20, fill: '#84eeee', smooth: false},
  {L: 364, T: 223, R: 640, B: 326, hist: in2Hist, bin: BIN_IN, kde: in2Kde, max: 150, step: 50, fill: '#d2d2d2', smooth: false},
  {L: 364, T: 374, R: 640, B: 478, hist: in3Hist, bin: BIN_IN, kde: in3Kde, max: 9, step: 3, fill: '#5656e2', smooth: true},
  {L: 364, T: 562, R: 640, B: 665, hist: in4Hist, bin: BIN_IN, kde: in4Kde, max: 3, step: 1, fill: '#f4a29f', smooth: true},
  {L: 134, T: 715, R: 409, B: 818, hist: in5Hist, bin: BIN_IN, kde: [], max: 3, step: 1, fill: '#1f9a2e', smooth: true},
  {L: 134, T: 889, R: 409, B: 992, hist: in6Hist, bin: BIN_IN6, kde: in6Kde, max: 3, step: 1, fill: '#f0548f', smooth: true}
];
insets.forEach(s => {
  const c = addCanvas(s.L - 40, s.T - 10, s.R - s.L + 52, s.B - s.T + 34);
  new Chart(c, {
    type: 'bar',
    data: {datasets: [
      {type: 'line', data: pts(s.kde), borderColor: '#151515', borderWidth: 1.7, pointRadius: 0, fill: false,
       tension: 0, cubicInterpolationMode: s.smooth ? 'monotone' : 'default', order: 0},
      {type: 'bar', data: bars(s.hist, s.bin), backgroundColor: s.fill, borderColor: '#333', borderWidth: 0.7,
       barPercentage: 1, categoryPercentage: 1, order: 1}
    ]},
    options: {
      responsive: false, animation: false, events: [],
      layout: {padding: {left: 0, right: 12, top: 10, bottom: 0}},
      plugins: {legend: {display: false}, tooltip: {enabled: false},
        frame: {color: '#555', width: 1.4},
        tickMarks: {sets: [{axis: 'x', step: 5, inside: 3, outside: 0}, {axis: 'x', step: 50, inside: 4, outside: 4}], width: 1}},
      scales: {
        x: {type: 'linear', min: 0, max: 200, offset: false,
          afterFit: sc => { sc.height = 24; },
          border: {color: '#000', width: 1.3},
          grid: {display: false, drawTicks: false, offset: false},
          ticks: {stepSize: 5, autoSkip: false, maxRotation: 0, padding: 5, color: '#111',
            font: {family: FONT, size: 15}, callback: v => v % 50 === 0 ? String(v) : ''}},
        y: {type: 'linear', min: 0, max: s.max,
          afterFit: sc => { sc.width = 40; },
          border: {color: '#000', width: 1.3},
          grid: {drawOnChartArea: false, drawTicks: true, tickLength: 4, color: '#000'},
          ticks: {stepSize: s.step, padding: 2, color: '#111', font: {family: FONT, size: 15}}}
      }
    }
  });
});

// ---------- Panel A texts ----------
addText(['Irrawaddy headwaters', '(Bomi-Chayu, Dianxi-Burma,', 'and uppermost Irrawaddy)', 'n=445'], 105, 57, 18, 20.6);
addText(['Yarlung Tsangpo (Gangdese', 'arc and Yarlung trunk river)', 'n=723'], 92, 229.5, 18, 20.3);
addText(['Modern Red River mouth', 'n=188'], 134, 394.3, 18, 20);
addText(['Upper Miocene palaeo-Red', 'River at Hanoi Basin (RR47A-2)', 'n=65'], 84, 559, 18, 20);
addText(['Lower-middle Eocene', 'Baoxiangsi Fm,', 'Jianchuan Basin,', 'n=105'], 462, 749.3, 18, 20.3);
addText(['Paleocene-Eocene', 'Denghei Fm,', 'Simao Basin, n=268'], 461, 919.3, 18, 20.4);
addText(['n=381'], 571, 80, 16, 18);
addText(['n=532'], 571, 253, 16, 18);
addText(['n=18'], 580, 404, 16, 18);
addText(['n=2'], 588, 592, 16, 18);
addText(['n=0'], 357, 744, 16, 18);
addText(['n=10'], 349, 919, 16, 18);
const boxA = document.createElement('div');
boxA.className = 'box';
Object.assign(boxA.style, {left: '83px', top: '13px', width: '25px', height: '21px', fontSize: '19px', lineHeight: '18px'});
boxA.textContent = 'A'; root.appendChild(boxA);
const numT = addText(['Number'], 0, 532, 20, 24, {fontWeight: 'bold', width: '100px', textAlign: 'center', left: '-24px', transform: 'rotate(-90deg)'});
const rpT = addText(['Relative Probability'], 0, 532, 20, 24, {fontWeight: 'bold', width: '220px', textAlign: 'center', left: '561px', transform: 'rotate(90deg)'});
addText(['Zircon U-Pb ages (Ma)'], 0, 1090, 20.5, 24, {fontWeight: 'bold', width: '726px', textAlign: 'center'});

// ---------- Panel B ----------
const cB = addCanvas(0, 1122, 693, 447);
new Chart(cB, {
  type: 'scatter',
  data: {datasets: [
    {label: 'Miocene Red River deposits', data: pts(mioceneRed), pointStyle: 'triangle', pointRadius: 6.8,
     backgroundColor: '#f4938c', borderColor: '#222', borderWidth: 1.2, order: 1},
    {label: 'Modern Red trunk river', data: pts(modernRed), pointStyle: 'circle', pointRadius: 3.8,
     backgroundColor: '#27c3f3', borderColor: '#d25ab4', borderWidth: 1.6, order: 2},
    {label: 'Modern Yarlung Tsangpo', data: pts(modernYarlung), pointStyle: 'rectRot', pointRadius: 4.4,
     backgroundColor: '#f7c500', borderColor: '#222', borderWidth: 0.9, order: 3},
    {label: 'Bomi-Chayu batholith bedrock', data: pts(bomiChayu), pointStyle: 'triangle', pointRadius: 5,
     backgroundColor: '#2bb6e8', borderColor: '#111', borderWidth: 0.9, order: 4},
    {label: 'Gangdese Arc', data: pts(gangdese), pointStyle: 'rect', pointRadius: 5,
     backgroundColor: '#b6b6b6', borderColor: '#888', borderWidth: 1, order: 5}
  ]},
  options: {
    responsive: false, animation: false, events: [],
    layout: {padding: {left: 0, right: 21, top: 20, bottom: 0}},
    plugins: {legend: {display: false}, tooltip: {enabled: false},
      frame: {color: '#111', width: 1.5},
      tickMarks: {sets: [
        {axis: 'x', step: 10, inside: 4, outside: 0}, {axis: 'x', step: 50, inside: 6, outside: 5},
        {axis: 'y', step: 2, inside: 4, outside: 0}, {axis: 'y', step: 10, inside: 6, outside: 5}], width: 1.2}},
    scales: {
      x: {type: 'linear', min: 0, max: 250,
        afterFit: s => { s.height = 52; },
        border: {color: '#000', width: 1.5},
        grid: {display: false, drawTicks: false},
        ticks: {stepSize: 10, autoSkip: false, maxRotation: 0, padding: 12, color: '#111',
          font: {family: FONT, size: 17}, callback: v => v % 50 === 0 ? String(v) : ''}},
      y: {type: 'linear', min: -30, max: 20,
        afterFit: s => { s.width = 64; },
        border: {color: '#000', width: 1.5},
        grid: {drawTicks: false, lineWidth: 1.2,
          color: ctx => (ctx.tick && ctx.tick.value === 0) ? '#666' : 'rgba(0,0,0,0)'},
        ticks: {stepSize: 2, autoSkip: false, padding: 10, color: '#111',
          font: {family: FONT, size: 17}, callback: v => v % 10 === 0 ? String(v) : ''}}
    }
  }
});
const boxB = document.createElement('div');
boxB.className = 'box';
Object.assign(boxB.style, {left: '83px', top: '1132px', width: '25px', height: '23px', fontSize: '20px', lineHeight: '20px'});
boxB.textContent = 'B'; root.appendChild(boxB);
addText(['<i>Chondrite</i>'], 575, 1303, 18, 20);
addText(['εHf<sub style="font-size:13px">(t)</sub>'], 0, 1290, 22, 26, {fontWeight: 'bold', width: '80px', textAlign: 'center', left: '-11px', transform: 'rotate(-90deg)'});
addText(['Zircon U-Pb age (Ma)'], 0, 1560, 20.5, 24, {fontWeight: 'bold', width: '736px', textAlign: 'center'});

// legend
const lg = document.createElement('div');
Object.assign(lg.style, {position: 'absolute', left: '138px', top: '1448px', width: '535px', height: '64px',
  border: '2px solid #333', background: '#fff', boxSizing: 'border-box'});
root.appendChild(lg);
const mk = {
  sq: '<svg width="12" height="12"><rect x="1.5" y="1.5" width="9" height="9" fill="#b6b6b6" stroke="#888" stroke-width="1"/></svg>',
  tri: '<svg width="12" height="12"><polygon points="6,1 11.4,10.8 0.6,10.8" fill="#2bb6e8" stroke="#111" stroke-width="1"/></svg>',
  ptri: '<svg width="14" height="13"><polygon points="7,1 13,12 1,12" fill="#f4938c" stroke="#222" stroke-width="1.2"/></svg>',
  cir: '<svg width="12" height="12"><circle cx="6" cy="6" r="4.3" fill="#27c3f3" stroke="#d25ab4" stroke-width="1.5"/></svg>',
  dia: '<svg width="12" height="12"><polygon points="6,0.8 11.2,6 6,11.2 0.8,6" fill="#f7c500" stroke="#222" stroke-width="1"/></svg>'
};
function legItem(svg, mx, ty, text, tx) {
  const m = document.createElement('div');
  m.innerHTML = svg;
  Object.assign(m.style, {position: 'absolute', left: (mx - 6) + 'px', top: (ty - 6) + 'px', lineHeight: '0'});
  lg.appendChild(m);
  if (text) {
    const t = document.createElement('div');
    t.className = 't';
    t.textContent = text;
    Object.assign(t.style, {left: tx + 'px', top: (ty - 9) + 'px', fontSize: '15.5px', lineHeight: '18px'});
    lg.appendChild(t);
  }
}
legItem(mk.sq, 7, 13, 'Gangdese Arc (Yarlung Tsangpo drainage)', 16);
legItem(mk.tri, 7, 33, 'Bomi-Chayu batholith bedrock', 16);
const lt = document.createElement('div'); lt.className = 't'; lt.textContent = '(Irrawaddy headwaters)';
Object.assign(lt.style, {left: '16px', top: (51 - 9) + 'px', fontSize: '15.5px', lineHeight: '18px'}); lg.appendChild(lt);
legItem(mk.ptri, 319, 13, 'Miocene Red River deposits', 329);
legItem(mk.cir, 319, 33, 'Modern Red trunk river', 329);
legItem(mk.dia, 319, 51, 'Modern Yarlung Tsangpo', 329);
</script>
</body></html>
